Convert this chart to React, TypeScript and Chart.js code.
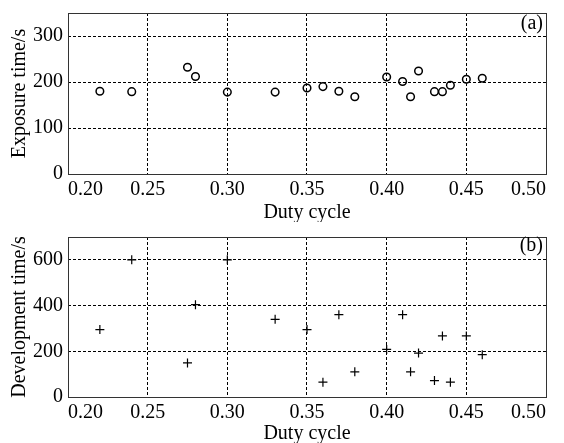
import React, { useEffect, useRef } from 'react';
import { Chart, registerables } from 'chart.js';

Chart.register(...registerables);

// ---- data ----
const dutyCycle = [0.22, 0.24, 0.275, 0.28, 0.30, 0.33, 0.35, 0.36, 0.37, 0.38, 0.40, 0.41, 0.415, 0.42, 0.43, 0.435, 0.44, 0.45, 0.46];
const exposureTime = [180, 179, 232, 212, 178, 178, 187, 190, 180, 168, 211, 201, 168, 224, 179, 179, 193, 206, 208];
const developmentTime = [295, 600, 149, 404, 600, 340, 295, 65, 360, 110, 208, 360, 110, 192, 72, 267, 65, 267, 185];

const xTickValues = [0.20, 0.25, 0.30, 0.35, 0.40, 0.45, 0.50];
const yTicksExposure = [0, 100, 200, 300];
const yTicksDevelopment = [0, 200, 400, 600];

const FONT = '"Liberation Serif", "Times New Roman", serif';

const framePlugin = {
  id: 'frame',
  afterDraw(chart: any, _args: any, opts: any) {
    const { ctx, chartArea: a } = chart;
    ctx.save();
    ctx.strokeStyle = '#333';
    ctx.lineWidth = 1;
    const l = Math.round(a.left), t = Math.round(a.top), r = Math.round(a.right), b = Math.round(a.bottom);
    ctx.strokeRect(l + 0.5, t + 0.5, r - l, b - t);
    ctx.font = '20px ' + FONT;
    ctx.fillStyle = '#000';
    ctx.textAlign = 'right';
    ctx.textBaseline = 'middle';
    ctx.fillText(opts.label, a.right - 3, a.top + (opts.dy ?? 10));
    ctx.restore();
  },
};

function makeConfig(
  values: number[],
  yMax: number,
  yTicks: number[],
  yTitle: string,
  label: string,
  labelDy: number,
  pointStyle: string,
  radius: number,
  borderWidth: number,
  topPad: number,
  xAxisHeight: number
): any {
  const pts = dutyCycle.map((x, i) => ({ x, y: values[i] }));
  const font = { family: FONT, size: 20 };
  return {
    type: 'scatter',
    data: {
      datasets: [
        {
          data: pts,
          pointStyle,
          pointRadius: radius,
          pointHoverRadius: radius,
          borderColor: '#000',
          backgroundColor: 'rgba(0,0,0,0)',
          borderWidth,
          showLine: false,
        },
      ],
    },
    options: {
      responsive: false,
      animation: false,
      devicePixelRatio: 1,
      layout: { padding: { top: topPad, right: 18, left: 0, bottom: 0 } },
      plugins: {
        legend: { display: false },
        tooltip: { enabled: false },
        frame: { label, dy: labelDy },
      },
      scales: {
        x: {
          type: 'linear',
          min: 0.2,
          max: 0.5,
          afterBuildTicks: (s: any) => {
            s.ticks = xTickValues.map((v) => ({ value: v }));
          },
          afterFit: (s: any) => {
            s.height = xAxisHeight;
            s.paddingLeft = 0;
            s.paddingRight = 0;
          },
          ticks: {
            callback: (v: any) => Number(v).toFixed(2),
            font,
            color: '#000',
            padding: 4,
            maxRotation: 0,
            autoSkip: false,
            align: 'inner',
          },
          grid: {
            drawTicks: false,
            lineWidth: 1,
            color: (c: any) => {
              const v = c.tick ? c.tick.value : 0;
              return Math.abs(v - 0.2) < 1e-6 || Math.abs(v - 0.5) < 1e-6 ? 'rgba(0,0,0,0)' : '#000';
            },
          },
          border: { display: false, dash: [3, 2] },
          title: {
            display: true,
            text: 'Duty cycle',
            font,
            color: '#000',
            padding: { top: 0, bottom: -3 },
          },
        },
        y: {
          type: 'linear',
          min: 0,
          max: yMax,
          afterBuildTicks: (s: any) => {
            s.ticks = yTicks.map((v) => ({ value: v }));
          },
          afterFit: (s: any) => {
            s.width = 68;
            s.paddingTop = 0;
            s.paddingBottom = 0;
          },
          ticks: {
            font,
            color: '#000',
            padding: 5,
          },
          grid: {
            drawTicks: false,
            lineWidth: 1,
            color: (c: any) => {
              const v = c.tick ? c.tick.value : 0;
              return v === 0 || v === yMax ? 'rgba(0,0,0,0)' : '#000';
            },
          },
          border: { display: false, dash: [3, 2] },
          title: {
            display: true,
            text: yTitle,
            font,
            color: '#000',
            padding: { top: 8, bottom: 0 },
          },
        },
      },
    },
    plugins: [framePlugin],
  };
}

function ChartCanvas({ config, width, height }: { config: any; width: number; height: number }) {
  const ref = useRef<HTMLCanvasElement | null>(null);
  useEffect(() => {
    if (!ref.current) return;
    const chart = new Chart(ref.current, config);
    return () => chart.destroy();
  }, [config]);
  return <canvas ref={ref} width={width} height={height} style={{ display: 'block', width, height }} />;
}

const topConfig = makeConfig(exposureTime, 350, yTicksExposure, 'Exposure time/s', '(a)', 11, 'circle', 3.8, 1.5, 13, 48);
const bottomConfig = makeConfig(developmentTime, 700, yTicksDevelopment, 'Development time/s', '(b)', 9, 'cross', 4.5, 1.2, 15, 46);

export default function App() {
  return (
    <div style={{ position: 'fixed', left: 0, top: 0, width: 564, height: 443, background: '#fff', overflow: 'hidden' }}>
      <ChartCanvas config={topConfig} width={564} height={222} />
      <ChartCanvas config={bottomConfig} width={564} height={221} />
    </div>
  );
}
